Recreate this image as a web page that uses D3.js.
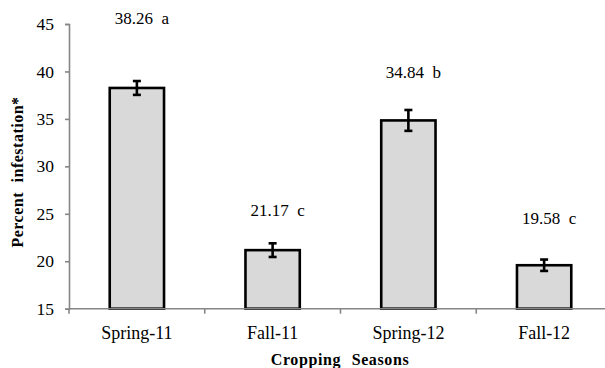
<!DOCTYPE html>
<html>
<head>
<meta charset="utf-8">
<script src="https://cdn.jsdelivr.net/npm/d3@7/dist/d3.min.js"></script>
<style>
  html, body { margin: 0; padding: 0; background: #fff; }
  svg { display: block; }
  text { font-family: "Liberation Serif", "Times New Roman", serif; fill: #000; }
</style>
</head>
<body>
<svg id="chart" width="605" height="368"></svg>
<script>
// Percent infestation by cropping season, with standard errors and group letters
const seasons = ["Spring-11", "Fall-11", "Spring-12", "Fall-12"];
const infestation = [38.26, 21.17, 34.84, 19.58];
const stdError = [0.73, 0.72, 1.1, 0.6];
const groupLetters = ["a", "c", "b", "c"];
const labelLevel = [45.0, 24.8, 39.3, 23.9];
const yTicks = [15, 20, 25, 30, 35, 40, 45];

const svg = d3.select("#chart");
const margin = { left: 69, right: -7, top: 24, bottom: 59.3 };
const W = 605, H = 368;

const x = d3.scaleBand()
  .domain(seasons)
  .range([margin.left, W - margin.right])
  .paddingInner(0.6)
  .paddingOuter(0.3);

const y = d3.scaleLinear()
  .domain([15, 45])
  .range([H - margin.bottom, margin.top]);

const axisColor = "#868686";

// y axis
const yAxis = svg.append("g")
  .attr("transform", `translate(${margin.left},0)`)
  .call(d3.axisLeft(y).tickValues(yTicks).tickSize(4).tickPadding(11).tickFormat(d3.format("d")));
yAxis.select(".domain").attr("stroke", axisColor).attr("stroke-width", 1.6);
yAxis.selectAll(".tick line").attr("stroke", axisColor).attr("stroke-width", 1.6);
yAxis.selectAll(".tick text")
  .style("font-family", "'Liberation Serif', serif")
  .style("font-size", "17.5px")
  .attr("fill", "#000");

// bars
const data = seasons.map((s, i) => ({ s, v: infestation[i], e: stdError[i], g: groupLetters[i], l: labelLevel[i] }));

svg.append("g").selectAll("rect")
  .data(data)
  .join("rect")
  .attr("x", d => x(d.s))
  .attr("width", x.bandwidth())
  .attr("y", d => y(d.v))
  .attr("height", d => y(15) - y(d.v))
  .attr("fill", "#d9d9d9")
  .attr("stroke", "#000")
  .attr("stroke-width", 2.6);

// x axis line and category boundary ticks
const xAxisG = svg.append("g");
xAxisG.append("line")
  .attr("x1", margin.left).attr("x2", W - margin.right)
  .attr("y1", y(15)).attr("y2", y(15))
  .attr("stroke", axisColor).attr("stroke-width", 1.6);
const boundaries = seasons.map(s => x(s) - x.step() * x.paddingInner() / 2).concat([W - margin.right]);
xAxisG.selectAll("line.tk")
  .data(boundaries)
  .join("line")
  .attr("class", "tk")
  .attr("x1", d => d).attr("x2", d => d)
  .attr("y1", y(15)).attr("y2", y(15) + 5)
  .attr("stroke", axisColor).attr("stroke-width", 1.6);
xAxisG.selectAll("text")
  .data(seasons)
  .join("text")
  .attr("x", d => x(d) + x.bandwidth() / 2)
  .attr("y", y(15) + 30)
  .attr("text-anchor", "middle")
  .style("font-size", "18px")
  .text(d => d);

// error bars
const err = svg.append("g").attr("stroke", "#000").attr("stroke-width", 2.6);
data.forEach(d => {
  const cx = x(d.s) + x.bandwidth() / 2;
  err.append("line").attr("x1", cx).attr("x2", cx).attr("y1", y(d.v + d.e)).attr("y2", y(d.v - d.e));
  err.append("line").attr("x1", cx - 4).attr("x2", cx + 4).attr("y1", y(d.v + d.e)).attr("y2", y(d.v + d.e));
  err.append("line").attr("x1", cx - 4).attr("x2", cx + 4).attr("y1", y(d.v - d.e)).attr("y2", y(d.v - d.e));
});

// value labels with group letters
svg.append("g").selectAll("text")
  .data(data)
  .join("text")
  .attr("x", d => x(d.s) + x.bandwidth() / 2 + 5)
  .attr("y", d => y(d.l))
  .attr("text-anchor", "middle")
  .style("font-size", "17px")
  .text(d => d3.format(".2f")(d.v) + "\u00a0\u00a0" + d.g);

// axis titles
svg.append("text")
  .attr("x", 340)
  .attr("y", 365)
  .attr("text-anchor", "middle")
  .style("font-size", "16px")
  .style("font-weight", "bold")
  .style("word-spacing", "6px")
  .style("letter-spacing", "0.6px")
  .text("Cropping Seasons");

svg.append("text")
  .attr("transform", "translate(23,172) rotate(-90)")
  .attr("text-anchor", "middle")
  .style("font-size", "16px")
  .style("font-weight", "bold")
  .style("word-spacing", "5px")
  .style("letter-spacing", "0.5px")
  .text("Percent infestation*");
</script>
</body>
</html>
